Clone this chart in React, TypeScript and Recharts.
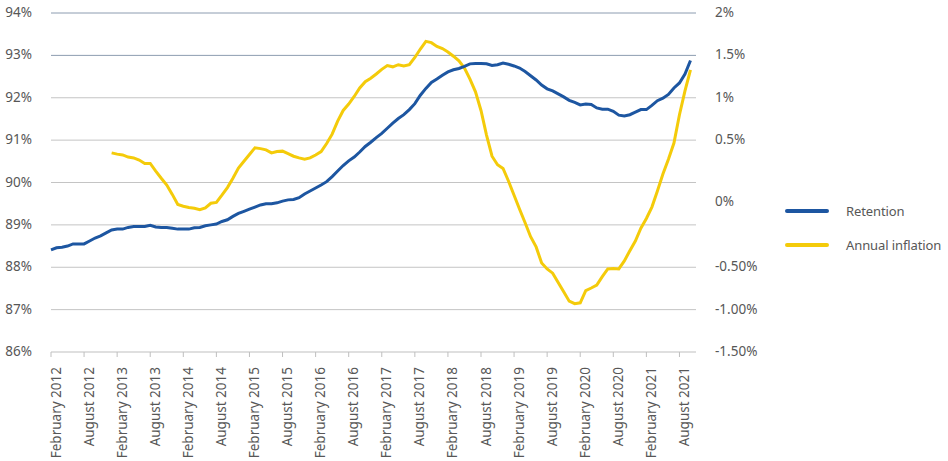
import {
  LineChart,
  Line,
  XAxis,
  YAxis,
  ReferenceLine,
} from "recharts";

// monthly series, index 0 = February 2012
const retention = [
  88.41, 88.46, 88.47, 88.5, 88.55, 88.55, 88.55, 88.62, 88.69, 88.74, 88.81, 88.88,
  88.9, 88.9, 88.94, 88.96, 88.96, 88.96, 88.99, 88.95, 88.94, 88.94, 88.92, 88.9,
  88.9, 88.9, 88.93, 88.94, 88.98, 89.0, 89.02, 89.08, 89.12, 89.2, 89.27, 89.32,
  89.37, 89.42, 89.47, 89.5, 89.5, 89.52, 89.56, 89.59, 89.6, 89.64, 89.73, 89.8,
  89.87, 89.94, 90.02, 90.14, 90.27, 90.4, 90.51, 90.6, 90.72, 90.85, 90.95, 91.06,
  91.16, 91.28, 91.4, 91.51, 91.6, 91.72, 91.86, 92.06, 92.22, 92.36, 92.44, 92.53,
  92.61, 92.66, 92.69, 92.74, 92.8, 92.81, 92.81, 92.8, 92.76, 92.78, 92.82, 92.79,
  92.75, 92.7, 92.62, 92.52, 92.42, 92.3, 92.21, 92.16, 92.09, 92.02, 91.94, 91.89,
  91.83, 91.85, 91.84, 91.76, 91.73, 91.73, 91.68, 91.59, 91.57, 91.6, 91.66, 91.72,
  91.72, 91.82, 91.93, 91.99, 92.08, 92.23, 92.35, 92.56, 92.88,
];

// annual inflation, starts at month index 11
const inflationStart = 11;
const inflation = [
  0.35, 0.335, 0.325, 0.3, 0.29, 0.265, 0.225, 0.225, 0.135, 0.05, -0.03, -0.14,
  -0.26, -0.28, -0.295, -0.305, -0.32, -0.3, -0.245, -0.235, -0.15, -0.06, 0.05, 0.17,
  0.25, 0.33, 0.41, 0.4, 0.385, 0.35, 0.365, 0.37, 0.34, 0.31, 0.29, 0.275,
  0.29, 0.325, 0.365, 0.46, 0.57, 0.725, 0.85, 0.925, 1.015, 1.115, 1.19, 1.23,
  1.28, 1.335, 1.38, 1.365, 1.39, 1.375, 1.39, 1.475, 1.575, 1.665, 1.65, 1.605,
  1.58, 1.54, 1.49, 1.435, 1.35, 1.22, 1.07, 0.85, 0.56, 0.31, 0.21, 0.165,
  0.015, -0.15, -0.315, -0.475, -0.64, -0.76, -0.95, -1.02, -1.07, -1.18, -1.29, -1.4,
  -1.43, -1.42, -1.275, -1.245, -1.21, -1.11, -1.02, -1.015, -1.02, -0.925, -0.805, -0.69,
  -0.54, -0.425, -0.29, -0.1, 0.1, 0.275, 0.465, 0.8, 1.08, 1.33,
];

const xTicks = [0, 6, 12, 18, 24, 30, 36, 42, 48, 54, 60, 66, 72, 78, 84, 90, 96, 102, 108, 114];
const xTickLabels = [
  "February 2012", "August 2012", "February 2013", "August 2013", "February 2014",
  "August 2014", "February 2015", "August 2015", "February 2016", "August 2016",
  "February 2017", "August 2017", "February 2018", "August 2018", "February 2019",
  "August 2019", "February 2020", "August 2020", "February 2021", "August 2021",
];

const leftTicks = [86, 87, 88, 89, 90, 91, 92, 93, 94];
const rightTicks = [2, 1.5, 1, 0.5, -0.235, -1, -1.5, -2];
const rightTickLabels = ["2%", "1.5%", "1%", "0.5%", "0%", "-0.50%", "-1.00%", "-1.50%"];

const data = retention.map((r, i) => ({
  i,
  retention: r,
  inflation: i >= inflationStart ? inflation[i - inflationStart] ?? null : null,
}));

const BLUE = "#1d56a1";
const YELLOW = "#f4cb0a";
const TEXT = "#575757";
const FONT = "'Noto Sans', sans-serif";

const XTick = ({ x, y, payload }: any) => {
  const label = xTickLabels[xTicks.indexOf(payload.value)] ?? "";
  return (
    <text
      x={x + 9.5}
      y={y + 10}
      transform={`rotate(-90, ${x + 9.5}, ${y + 10})`}
      textAnchor="end"
      fill={TEXT}
      fontSize={13.5}
      fontFamily={FONT}
    >
      {label}
    </text>
  );
};

const LeftTick = ({ x, y, payload }: any) => (
  <text x={x - 19} y={y} dy={4} textAnchor="end" fill={TEXT} fontSize={13.5} fontFamily={FONT}>
    {payload.value}%
  </text>
);

const RightTick = ({ x, y, index }: any) => (
  <text x={x + 19} y={y} dy={4} textAnchor="start" fill={TEXT} fontSize={13.5} fontFamily={FONT}>
    {rightTickLabels[index]}
  </text>
);

const legendItems = [
  { name: "Retention", color: BLUE },
  { name: "Annual inflation", color: YELLOW },
];

export default function App() {
  return (
    <div style={{ position: "relative", width: 948, height: 461, background: "#fff" }}>
      <style>{`body{margin:0}`}</style>
      <LineChart
        width={948}
        height={461}
        data={data}
        margin={{ top: 13, right: 182, left: 0, bottom: 9 }}
      >
        <XAxis
          dataKey="i"
          type="number"
          domain={[0, 117]}
          ticks={xTicks}
          interval={0}
          height={100}
          tick={<XTick />}
          tickSize={5}
          tickMargin={0}
          axisLine={{ stroke: "#bfbfbf" }}
          tickLine={{ stroke: "#bfbfbf" }}
        />
        <YAxis
          yAxisId="left"
          domain={[86, 94]}
          ticks={leftTicks}
          interval={0}
          width={51}
          axisLine={false}
          tickLine={false}
          tickSize={0}
          tickMargin={0}
          tick={<LeftTick />}
        />
        <YAxis
          yAxisId="right"
          orientation="right"
          domain={[-2, 2]}
          ticks={rightTicks}
          interval={0}
          width={70}
          axisLine={false}
          tickLine={false}
          tickSize={0}
          tickMargin={0}
          tick={<RightTick />}
        />
        {leftTicks.slice(1).map((v) => (
          <ReferenceLine
            key={v}
            yAxisId="left"
            y={v}
            stroke={v >= 93 ? "#8c9cb0" : "#c4c4c4"}
            strokeWidth={1}
          />
        ))}
        <Line
          yAxisId="right"
          dataKey="inflation"
          stroke={YELLOW}
          strokeWidth={3}
          dot={false}
          connectNulls={false}
          isAnimationActive={false}
        />
        <Line
          yAxisId="left"
          dataKey="retention"
          stroke={BLUE}
          strokeWidth={3}
          dot={false}
          isAnimationActive={false}
        />
      </LineChart>
      <div
        style={{
          position: "absolute",
          left: 785,
          top: 194,
          fontFamily: FONT,
          fontSize: 13,
          letterSpacing: -0.1,
          color: TEXT,
          whiteSpace: "nowrap",
        }}
      >
        {legendItems.map((s) => (
          <div key={s.name} style={{ display: "flex", alignItems: "center", height: 34 }}>
            <div style={{ width: 44, height: 4, borderRadius: 2, background: s.color, marginRight: 17 }} />
            <span>{s.name}</span>
          </div>
        ))}
      </div>
    </div>
  );
}
